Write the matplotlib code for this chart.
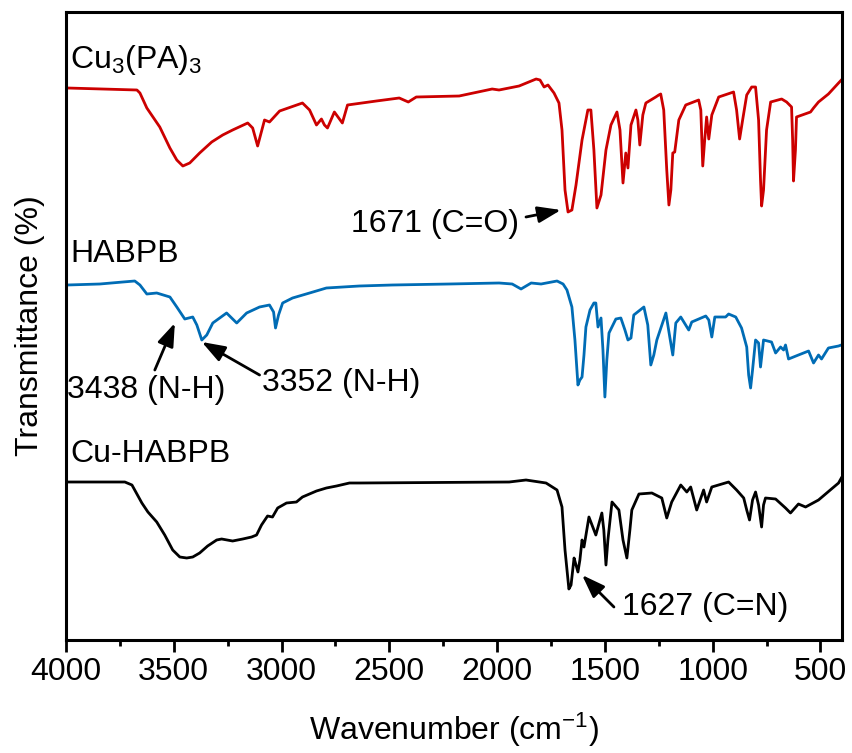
import matplotlib
matplotlib.use("Agg")
import matplotlib.pyplot as plt
from matplotlib.ticker import MultipleLocator

plt.rcParams['font.family'] = ['Liberation Sans', 'DejaVu Sans']
plt.rcParams['mathtext.default'] = 'regular'

# ---------------- data (wavenumber in cm-1, transmittance in arbitrary offset units) -------------
cu3pa3_wn = [3995, 3671, 3657, 3625, 3565, 3518, 3486, 3458, 3426, 3380, 3324, 3273, 3227, 3157,
             3134, 3111, 3079, 3056, 3009, 2903, 2870,
             2838, 2815, 2801, 2787, 2755, 2718, 2694, 2560, 2454, 2412, 2375, 2176, 2023, 1991,
             1898, 1819, 1801, 1782, 1764, 1736, 1713, 1699, 1685, 1671, 1653, 1634, 1606, 1579,
             1565, 1551, 1537, 1518, 1495, 1472, 1444, 1430, 1416, 1403, 1393, 1379, 1356, 1347,
             1338, 1324, 1310, 1287, 1264, 1250, 1241, 1227, 1213, 1203, 1194, 1185, 1176, 1157,
             1125, 1065, 1055, 1046, 1037, 1028, 1018, 1004, 972, 903, 889, 875, 861, 842, 819,
             801, 787, 778, 773, 764, 750, 731, 680, 657, 634, 629, 625, 616, 611, 546, 532, 509,
             463, 416, 403]
cu3pa3_t = [552, 550, 547, 532, 513, 492, 480, 474, 477, 487, 498, 505, 510, 517,
            512, 494, 520, 518, 529, 537, 530,
            515, 521, 515, 512, 528, 517, 535, 539, 542, 538, 543, 544, 551, 550,
            554, 561, 560, 553, 555, 547, 537, 510, 450, 428, 430, 455, 500, 530,
            530, 490, 432, 445, 490, 515, 528, 510, 457, 487, 472, 515, 530, 520,
            495, 525, 537, 540, 543, 545, 546, 530, 470, 435, 450, 487, 488, 520,
            535, 540, 530, 474, 500, 523, 501, 525, 543, 548, 530, 501, 520, 545, 553,
            553, 520, 460, 434, 450, 510, 538, 541, 538, 533, 500, 459, 490, 523, 528, 532, 538,
            546, 557, 560]

habpb_wn = [3995, 3843, 3736, 3681, 3657, 3625, 3579, 3518, 3486, 3449, 3412, 3393, 3370, 3347,
            3319, 3255, 3208, 3162, 3102, 3056, 3037, 3028, 3014, 2995, 2949, 2870, 2792, 2639,
            2486, 2222,
            1991, 1930, 1889, 1842, 1796, 1722, 1694, 1676, 1653, 1639, 1625, 1616, 1606, 1597,
            1588, 1569, 1551, 1542, 1532, 1518, 1509, 1500, 1491, 1481, 1449, 1426, 1407, 1393,
            1379, 1366, 1319, 1301, 1287, 1273, 1259, 1217, 1199, 1185, 1171, 1148, 1111, 1097,
            1032, 1018, 1004, 990, 940, 926, 893, 866, 842, 833, 824, 815, 801, 787, 778, 764,
            727, 708, 685, 671, 662, 648, 602, 555, 532, 509, 495, 463, 416, 403]
habpb_t = [355, 356, 358, 359, 355, 346, 347, 343, 333, 321, 323, 315, 300, 305,
           317, 327, 317, 327, 333, 335, 328, 312, 325, 337, 342, 347, 352, 354,
           355, 356,
           357, 356, 351, 357, 356, 359, 356, 350, 333, 300, 255, 260, 263, 285,
           313, 330, 337, 337, 313, 322, 290, 243, 280, 307, 321, 322, 310, 300,
           302, 325, 333, 315, 275, 285, 300, 327, 303, 285, 317, 323, 310, 318,
           324, 320, 303, 323, 323, 326, 323, 312, 293, 265, 252, 270, 300, 297, 273, 300,
           298, 287, 293, 290, 295, 281, 285, 289, 277, 285, 281, 292, 294, 295]

cuhabpb_wn = [3995, 3727, 3694, 3648, 3620, 3579, 3542, 3505, 3472, 3440, 3412, 3380, 3343, 3301,
              3278, 3227, 3180, 3139, 3116, 3093, 3065, 3042, 3018, 2977, 2931, 2903, 2838, 2792,
              2745, 2685, 2639, 1944, 1866, 1773, 1722, 1699, 1685, 1667,
              1657, 1643, 1634, 1625, 1616, 1606, 1597, 1574, 1542, 1514, 1505, 1495, 1486, 1467,
              1435, 1416, 1398, 1384, 1375, 1342, 1282, 1236, 1213, 1190, 1148, 1120, 1102, 1074,
              1042, 1028, 1004, 926, 889, 856, 842, 829, 815, 801, 787, 773, 764, 755, 708, 662,
              639, 602, 569, 509, 449, 416, 403]
cuhabpb_t = [158, 158, 155, 137, 128, 118, 105, 90, 83, 82, 83, 87, 94, 100,
             101, 99, 101, 103, 105, 115, 124, 123, 132, 137, 138, 143, 149, 152,
             154, 157, 157, 158, 160, 157, 150, 133, 90, 51,
             55, 82, 75, 68, 80, 100, 93, 123, 105, 127, 110, 75, 100, 138,
             130, 100, 82, 110, 130, 146, 147, 142, 122, 138, 155, 148, 153, 130,
             150, 138, 153, 158, 150, 142, 130, 120, 140, 148, 135, 113, 135, 142, 141, 132,
             127, 136, 133, 140, 151, 157, 162]

series_names = ['Cu$_3$(PA)$_3$', 'HABPB', 'Cu-HABPB']
series_colors = ['#CC0000', '#006CB5', '#000000']
label_pos = [(3981, 572), (3981, 378), (3981, 178)]

annot_texts = ['1671 (C=O)', '3438 (N-H)', '3352 (N-H)', '1627 (C=N)']
annot_tips = [(1704, 430), (3495, 317), (3370, 298), (1606, 65)]
annot_tails = [(1866, 423), (3588, 270), (3102, 265), (1458, 33)]
annot_text_pos = [(1898, 416), (3995, 250), (3093, 257), (1421, 33)]
annot_ha = ['right', 'left', 'left', 'left']

# ---------------- figure ----------------
fig = plt.figure(figsize=(8.53, 7.53), dpi=100)
ax = fig.add_axes([66/853, 1-640/753, 776/853, 628/753])

ax.plot(cu3pa3_wn, cu3pa3_t, color=series_colors[0], lw=2.0, solid_joinstyle='round')
ax.plot(habpb_wn, habpb_t, color=series_colors[1], lw=2.0, solid_joinstyle='round')
ax.plot(cuhabpb_wn, cuhabpb_t, color=series_colors[2], lw=2.0, solid_joinstyle='round')

for name, (x, y) in zip(series_names, label_pos):
    ax.text(x, y, name, fontsize=23, ha='left', va='baseline')

for txt, tip, tail, tp, ha in zip(annot_texts, annot_tips, annot_tails, annot_text_pos, annot_ha):
    ax.annotate('', xy=tip, xytext=tail,
                arrowprops=dict(arrowstyle='-|>,head_length=0.7,head_width=0.25',
                                mutation_scale=20, lw=2, color='k',
                                shrinkA=0, shrinkB=0))
    ax.text(tp[0], tp[1], txt, fontsize=23, ha=ha, va='center')

ax.set_xlim(4000, 400)
ax.set_ylim(0, 628)
ax.xaxis.set_major_locator(MultipleLocator(500))
ax.xaxis.set_minor_locator(MultipleLocator(250))
ax.tick_params(axis='x', which='major', direction='out', length=8.5, width=2,
               labelsize=23, pad=3.5, top=False)
ax.tick_params(axis='x', which='minor', direction='out', length=4.3, width=2, top=False)
ax.set_yticks([])
for s in ax.spines.values():
    s.set_linewidth(2.2)

ax.set_xlabel('Wavenumber (cm$^{-1}$)', fontsize=23)
ax.xaxis.set_label_coords(0.5, -0.112)
ax.set_ylabel('Transmittance (%)', fontsize=23)
ax.yaxis.set_label_coords(-0.027, 0.5)

fig.savefig('out.png', dpi=100)
